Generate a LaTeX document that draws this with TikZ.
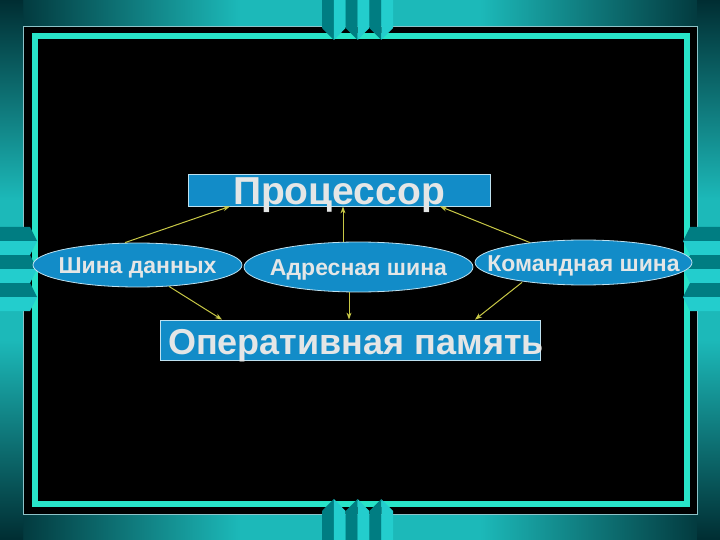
\documentclass[tikz,border=0pt]{standalone}
\usepackage{fontspec}
\setmainfont{Liberation Sans}
\usetikzlibrary{shapes.geometric,arrows.meta}
\definecolor{bandteal}{RGB}{28,185,185}
\definecolor{banddark}{RGB}{0,45,50}
\definecolor{bordercyan}{RGB}{40,228,200}
\definecolor{edgeline}{RGB}{140,195,200}
\definecolor{toothdark}{RGB}{0,125,130}
\definecolor{toothlight}{RGB}{35,205,205}
\definecolor{boxblue}{RGB}{18,140,200}
\definecolor{edgelight}{RGB}{190,225,240}
\definecolor{txt}{RGB}{228,230,230}
\definecolor{arrowyellow}{RGB}{200,200,70}
\begin{document}
\begin{tikzpicture}[x=1pt,y=-1pt,
  bluebox/.style={rectangle, fill=boxblue, draw=edgelight, line width=0.8pt, inner sep=0pt, text=txt},
  busell/.style={ellipse, fill=boxblue, draw=edgelight, line width=0.8pt, inner sep=0pt, text=txt,
    font=\bfseries\fontsize{23}{23}\selectfont, text height=17pt, text depth=0pt},
  link/.style={draw=arrowyellow, line width=1pt, -{Stealth[length=7pt,width=5pt]}}
]
\useasboundingbox (0,0) rectangle (720,540);
\fill[black] (0,0) rectangle (720,540);
% top band
\shade[left color=banddark, right color=bandteal] (0,0) rectangle (240,26);
\fill[bandteal] (240,0) rectangle (480,26);
\shade[left color=bandteal, right color=banddark] (480,0) rectangle (720,26);
% bottom band
\shade[left color=banddark, right color=bandteal] (0,514) rectangle (240,540);
\fill[bandteal] (240,514) rectangle (480,540);
\shade[left color=bandteal, right color=banddark] (480,514) rectangle (720,540);
% left band
\shade[top color=banddark, bottom color=bandteal] (0,0) rectangle (23,200);
\fill[bandteal] (0,200) rectangle (23,340);
\shade[top color=bandteal, bottom color=banddark] (0,340) rectangle (23,540);
% right band
\shade[top color=banddark, bottom color=bandteal] (697,0) rectangle (720,200);
\fill[bandteal] (697,200) rectangle (720,340);
\shade[top color=bandteal, bottom color=banddark] (697,340) rectangle (720,540);
% frame lines
\draw[edgeline, line width=0.7pt] (23,26) rectangle (697,514);
\draw[bordercyan, line width=6pt] (34.5,36) rectangle (686.5,503.5);
% teeth
\foreach \i in {0,1,2}{
  \pgfmathsetmacro\xa{322+23.7*\i}
  \pgfmathsetmacro\xm{\xa+11.85}
  \pgfmathsetmacro\xb{\xa+23.7}
  \fill[toothdark] (\xa,0) -- (\xm,0) -- (\xm,40) -- (\xa,28) -- cycle;
  \fill[toothlight] (\xm,0) -- (\xb,0) -- (\xb,28) -- (\xm,40) -- cycle;
  \fill[toothdark] (\xa,540) -- (\xm,540) -- (\xm,499) -- (\xa,511) -- cycle;
  \fill[toothlight] (\xm,540) -- (\xb,540) -- (\xb,511) -- (\xm,499) -- cycle;
  \pgfmathsetmacro\ya{227+28*\i}
  \pgfmathsetmacro\ym{\ya+14}
  \pgfmathsetmacro\yb{\ya+28}
  \fill[toothdark] (0,\ya) -- (30,\ya) -- (37,\ym) -- (0,\ym) -- cycle;
  \fill[toothlight] (0,\ym) -- (37,\ym) -- (30,\yb) -- (0,\yb) -- cycle;
  \fill[toothdark] (720,\ya) -- (690,\ya) -- (683,\ym) -- (720,\ym) -- cycle;
  \fill[toothlight] (720,\ym) -- (683,\ym) -- (690,\yb) -- (720,\yb) -- cycle;
}
% nodes
\node[bluebox, minimum width=302pt, minimum height=32pt,
  font=\bfseries\fontsize{39}{39}\selectfont, text height=29pt, text depth=0pt]
  (proc) at (339,190) {Процессор};
\node[bluebox, minimum width=380pt, minimum height=40pt,
  font=\bfseries\fontsize{36}{36}\selectfont, text height=28pt, text depth=0pt]
  (ram) at (350,340) {\makebox[0pt]{\hspace*{12pt}Оперативная память}};
\node[busell, minimum width=209pt, minimum height=44pt] (data) at (137.5,265)
  {\makebox[0pt]{Шина данных}};
\node[busell, minimum width=229pt, minimum height=50pt] (addr) at (358.5,267)
  {\makebox[0pt]{Адресная шина}};
\node[busell, minimum width=217pt, minimum height=45pt] (cmd) at (583.5,262.5)
  {\makebox[0pt]{Командная шина}};
% connectors
\draw[link] ([xshift=-12.5pt]data.north) -- ([xshift=-109pt]proc.south);
\draw[link] ([xshift=-15.5pt]addr.north) -- ([xshift=4pt]proc.south);
\draw[link] ([xshift=-53.5pt,yshift=-3pt]cmd.north) -- ([xshift=101pt]proc.south);
\draw[link] ([xshift=31.5pt,yshift=1pt]data.south) -- ([xshift=-128pt]ram.north);
\draw[link] ([xshift=-9.5pt]addr.south) -- ([xshift=-1pt]ram.north);
\draw[link] ([xshift=-61.5pt,yshift=3pt]cmd.south) -- ([xshift=125pt]ram.north);
\end{tikzpicture}
\end{document}
